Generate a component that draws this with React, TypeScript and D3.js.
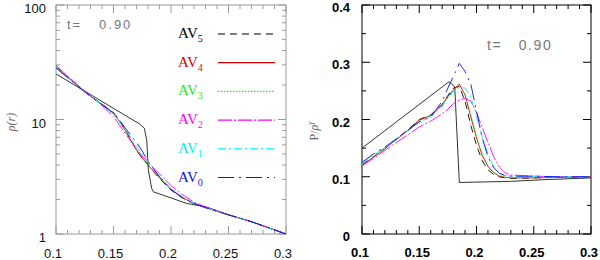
import React from 'react';
import * as d3 from 'd3';

const W = 600;
const H = 260;

// tick labels
const xTickLabels = [0.1, 0.15, 0.2, 0.25, 0.3];
const rhoTickLabels = [1, 10, 100];
const pTickLabels = [0, 0.1, 0.2, 0.3, 0.4];

// series
const seriesNames = ['5', '4', '3', '2', '1', '0'];
const seriesColors = ['#000000', '#e00000', '#22ee22', '#ff00ff', '#00f0f0', '#1010f0'];
const seriesDashes = ['7,5', '', '1.5,1.5', '14,2,2,2', '8,3,2,3', '16,5,2,5'];

// left panel: density
const rhoX = [0.1, 0.11, 0.12, 0.13, 0.14, 0.15, 0.155, 0.16, 0.165, 0.17, 0.175, 0.18, 0.19, 0.2, 0.21, 0.22, 0.23, 0.25, 0.27, 0.3];
const rhoAV5 = [28.8, 23.6, 19.3, 16.0, 13.6, 11.5, 9.9, 8.3, 6.7, 5.4, 4.6, 4.0, 3.05, 2.42, 2.06, 1.84, 1.70, 1.47, 1.28, 1.0];
const rhoAV4 = [28.5, 23.5, 19.3, 16.0, 13.5, 11.3, 9.7, 8.1, 6.6, 5.4, 4.6, 4.0, 3.1, 2.45, 2.08, 1.85, 1.70, 1.47, 1.28, 1.0];
const rhoAV3 = [28.6, 23.4, 19.2, 15.9, 13.4, 11.2, 9.6, 8.0, 6.6, 5.5, 4.7, 4.05, 3.1, 2.46, 2.08, 1.85, 1.70, 1.47, 1.28, 1.0];
const rhoAV2 = [29.8, 24.0, 19.6, 16.0, 13.2, 10.6, 9.0, 7.6, 6.5, 5.5, 4.8, 4.2, 3.35, 2.65, 2.2, 1.9, 1.72, 1.47, 1.28, 1.0];
const rhoAV1 = [28.4, 23.3, 19.2, 15.9, 13.4, 11.3, 9.8, 8.3, 7.0, 5.8, 5.0, 4.3, 3.2, 2.5, 2.1, 1.86, 1.70, 1.47, 1.28, 1.0];
const rhoAV0 = [28.2, 23.2, 19.1, 15.9, 13.5, 11.4, 9.9, 8.5, 7.3, 6.3, 5.3, 4.3, 3.15, 2.45, 2.08, 1.85, 1.70, 1.47, 1.28, 1.0];
const rhoExactX = [0.1, 0.173, 0.1768, 0.1789, 0.1803, 0.1832, 0.1846, 0.2136, 0.231, 0.25, 0.27, 0.3];
const rhoExact = [25, 9.1, 8.4, 6.6, 3.6, 2.5, 2.34, 1.85, 1.72, 1.47, 1.28, 1.0];

// right panel: entropy
const pX = [0.1, 0.11, 0.12, 0.13, 0.14, 0.15, 0.16, 0.17, 0.175, 0.18, 0.185, 0.19, 0.195, 0.2, 0.205, 0.21, 0.215, 0.22, 0.225, 0.23, 0.25, 0.27, 0.3];
const pAV5 = [0.121, 0.135, 0.150, 0.166, 0.182, 0.200, 0.208, 0.226, 0.242, 0.255, 0.258, 0.232, 0.190, 0.155, 0.128, 0.112, 0.104, 0.100, 0.098, 0.097, 0.098, 0.099, 0.100];
const pAV4 = [0.120, 0.134, 0.149, 0.165, 0.181, 0.199, 0.207, 0.226, 0.240, 0.252, 0.262, 0.243, 0.205, 0.168, 0.137, 0.118, 0.107, 0.101, 0.099, 0.098, 0.098, 0.099, 0.100];
const pAV3 = [0.121, 0.135, 0.150, 0.165, 0.180, 0.197, 0.206, 0.224, 0.238, 0.250, 0.258, 0.245, 0.210, 0.172, 0.140, 0.120, 0.108, 0.102, 0.099, 0.098, 0.098, 0.099, 0.100];
const pAV2 = [0.119, 0.132, 0.146, 0.160, 0.173, 0.187, 0.197, 0.210, 0.218, 0.228, 0.234, 0.237, 0.232, 0.212, 0.186, 0.160, 0.135, 0.117, 0.107, 0.103, 0.101, 0.100, 0.100];
const pAV1 = [0.124, 0.138, 0.151, 0.165, 0.180, 0.195, 0.205, 0.222, 0.238, 0.250, 0.256, 0.255, 0.240, 0.205, 0.170, 0.140, 0.118, 0.106, 0.102, 0.101, 0.101, 0.100, 0.100];
const pAV0 = [0.125, 0.140, 0.152, 0.166, 0.181, 0.196, 0.204, 0.232, 0.255, 0.276, 0.298, 0.284, 0.262, 0.215, 0.168, 0.135, 0.116, 0.106, 0.102, 0.101, 0.101, 0.100, 0.100];
const pExactX = [0.1, 0.176, 0.181, 0.185, 0.23, 0.26, 0.3];
const pExact = [0.15, 0.266, 0.257, 0.09, 0.092, 0.095, 0.098];

const rhoSeries = [rhoAV5, rhoAV4, rhoAV3, rhoAV2, rhoAV1, rhoAV0];
const pSeries = [pAV5, pAV4, pAV3, pAV2, pAV1, pAV0];

const L = { x0: 56, x1: 286, y0: 5, y1: 234 };
const R = { x0: 362, x1: 591, y0: 5, y1: 234 };

const sans = 'Liberation Sans, Arial, Helvetica, sans-serif';
const serif = 'Liberation Serif, Times New Roman, serif';
const timeLabel = 't=\u00a0\u00a0\u00a00.90';

export default function App() {
  const xL = d3.scaleLinear().domain([0.1, 0.3]).range([L.x0, L.x1]);
  const yL = d3.scaleLog().domain([1, 100]).range([L.y1, L.y0]);
  const xR = d3.scaleLinear().domain([0.1, 0.3]).range([R.x0, R.x1]);
  const yR = d3.scaleLinear().domain([0, 0.4]).range([R.y1, R.y0]);

  const lineL = (xs: number[], ys: number[]) =>
    d3.line<number>().x((_, i) => xL(xs[i])).y((d) => yL(d))(ys) || '';
  const lineR = (xs: number[], ys: number[]) =>
    d3.line<number>().x((_, i) => xR(xs[i])).y((d) => yR(d))(ys) || '';

  const xMinor = d3.range(0, 21).map((i) => 0.1 + i * 0.01);
  const logMinor: number[] = [];
  [1, 10].forEach((dec) => { for (let k = 2; k <= 9; k++) logMinor.push(dec * k); });
  const linMinor = d3.range(0, 9).map((i) => i * 0.05);

  const frameL = '#9a9a9a';
  const frameR = '#000';

  const xTicks = (x: d3.ScaleLinear<number, number>, b: typeof L, col: string) =>
    xMinor.map((v, i) => {
      const major = i % 5 === 0;
      const len = major ? 8 : 4;
      const px = x(v);
      return (
        <g key={'xt' + i} stroke={col} strokeWidth={1}>
          <line x1={px} x2={px} y1={b.y1} y2={b.y1 - len} />
          <line x1={px} x2={px} y1={b.y0} y2={b.y0 + len} />
        </g>
      );
    });

  return (
    <svg width={W} height={H} style={{ position: 'absolute', left: 0, top: 0, background: '#fff' }}>
      {/* ---------- LEFT PANEL ---------- */}
      <g>
        {xTicks(xL, L, frameL)}
        {logMinor.map((v, i) => (
          <g key={'lm' + i} stroke={frameL}>
            <line x1={L.x0} x2={L.x0 + 4} y1={yL(v)} y2={yL(v)} />
            <line x1={L.x1} x2={L.x1 - 4} y1={yL(v)} y2={yL(v)} />
          </g>
        ))}
        {rhoTickLabels.map((v, i) => (
          <g key={'lM' + i} stroke={frameL}>
            <line x1={L.x0} x2={L.x0 + 8} y1={yL(v)} y2={yL(v)} />
            <line x1={L.x1} x2={L.x1 - 8} y1={yL(v)} y2={yL(v)} />
          </g>
        ))}
        <rect x={L.x0} y={L.y0} width={L.x1 - L.x0} height={L.y1 - L.y0} fill="none" stroke={frameL} strokeWidth={1} />
        {rhoTickLabels.map((v, i) => (
          <text key={'ll' + i} x={46} y={yL(v) + 8} textAnchor="end" fontFamily={sans} fontSize={13} fill="#111">
            {String(v)}
          </text>
        ))}
        {xTickLabels.map((v, i) => (
          <text key={'lx' + i} x={xL(v) - 3} y={258} textAnchor="middle" fontFamily={sans} fontSize={13} fill="#111">
            {String(v)}
          </text>
        ))}
        <text transform="translate(15,122) rotate(-90)" textAnchor="middle" fontFamily={serif} fontStyle="italic" fontSize={12} fill="#666">
          ρ(r)
        </text>
        <text x={67} y={29} fontFamily={sans} fontSize={13} letterSpacing={2} fill="#777">
          {timeLabel}
        </text>

        {/* curves */}
        <path d={lineL(rhoExactX, rhoExact)} fill="none" stroke="#333" strokeWidth={1} />
        {rhoSeries.map((s, i) => (
          <path key={'rs' + i} d={lineL(rhoX, s)} fill="none" stroke={seriesColors[i]} strokeWidth={1}
            strokeDasharray={seriesDashes[i] || undefined} opacity={0.9} />
        ))}

        {/* legend */}
        {seriesNames.map((n, i) => {
          const yy = 34 + i * 28.7;
          return (
            <g key={'lg' + i}>
              <text x={178} y={yy + 4} fontFamily={serif} fontSize={15} fill={seriesColors[i]}>
                AV<tspan fontSize={10} dy={4}>{n}</tspan>
              </text>
              <line x1={218} x2={275} y1={yy} y2={yy} stroke={seriesColors[i]} strokeWidth={1.2}
                strokeDasharray={seriesDashes[i] || undefined} />
            </g>
          );
        })}
      </g>

      {/* ---------- RIGHT PANEL ---------- */}
      <g>
        {xTicks(xR, R, frameR)}
        {linMinor.map((v, i) => {
          const major = i % 2 === 0;
          const len = major ? 8 : 4;
          return (
            <g key={'rm' + i} stroke={frameR}>
              <line x1={R.x0} x2={R.x0 + len} y1={yR(v)} y2={yR(v)} />
              <line x1={R.x1} x2={R.x1 - len} y1={yR(v)} y2={yR(v)} />
            </g>
          );
        })}
        <rect x={R.x0} y={R.y0} width={R.x1 - R.x0} height={R.y1 - R.y0} fill="none" stroke={frameR} strokeWidth={1} />
        {pTickLabels.map((v, i) => (
          <text key={'rl' + i} x={350} y={yR(v) + 7} textAnchor="end" fontFamily={sans} fontWeight="bold" fontSize={13} fill="#000">
            {v === 0 ? '0' : String(v)}
          </text>
        ))}
        {xTickLabels.map((v, i) => (
          <text key={'rx' + i} x={xR(v) - 2} y={257} textAnchor="middle" fontFamily={sans} fontWeight="bold" fontSize={13} fill="#000">
            {String(v)}
          </text>
        ))}
        <text transform="translate(318,131) rotate(-90)" textAnchor="middle" fontFamily={serif} fontSize={12} fill="#666">
          P/<tspan fontStyle="italic">ρ</tspan><tspan fontStyle="italic" fontSize={8} dy={-5}>γ</tspan>
        </text>
        <text x={487} y={50} fontFamily={sans} fontSize={14} letterSpacing={1.6} fill="#777">
          {timeLabel}
        </text>

        <path d={lineR(pExactX, pExact)} fill="none" stroke="#333" strokeWidth={1} />
        {pSeries.map((s, i) => (
          <path key={'ps' + i} d={lineR(pX, s)} fill="none" stroke={seriesColors[i]} strokeWidth={1}
            strokeDasharray={seriesDashes[i] || undefined} opacity={0.9} />
        ))}
      </g>
    </svg>
  );
}
